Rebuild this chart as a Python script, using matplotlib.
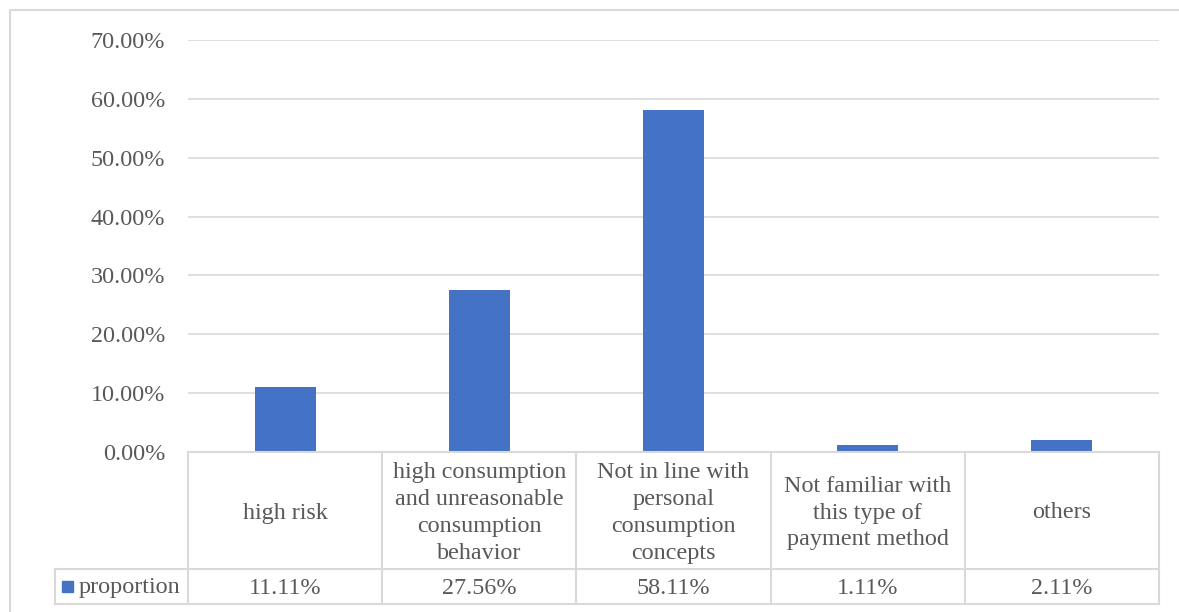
import matplotlib
matplotlib.use("Agg")
import matplotlib.pyplot as plt
from matplotlib.transforms import blended_transform_factory
from matplotlib.patches import Rectangle
from matplotlib.lines import Line2D

categories = [
    "high risk",
    "high consumption\nand unreasonable\nconsumption\nbehavior",
    "Not in line with\npersonal\nconsumption\nconcepts",
    "Not familiar with\nthis type of\npayment method",
    "others",
]
proportion = [11.11, 27.56, 58.11, 1.11, 2.11]
series_name = "proportion"
y_ticks = [0, 10, 20, 30, 40, 50, 60, 70]

W, H = 1179, 612
DPI = 100
BAR = "#4472C4"
GRID = "#D9D9D9"
TXT = "#595959"
FONT = "Liberation Serif"
FS = 17.4

plt.rcParams["font.family"] = [FONT, "DejaVu Serif"]

fig = plt.figure(figsize=(W / DPI, H / DPI), dpi=DPI)

def fx(px):
    return px / W

def fy(py):
    return 1 - py / H

# plot area in pixel coordinates
left_px, right_px, top_px, zero_px = 188, 1159, 40, 452
tab_mid_px, tab_bot_px, legend_left_px = 569, 604, 55

ax = fig.add_axes([fx(left_px), fy(zero_px), fx(right_px - left_px), (zero_px - top_px) / H])
x = list(range(len(categories)))
ax.bar(x, proportion, width=0.315, color=BAR, zorder=3)
ax.set_xlim(-0.5, len(categories) - 0.5)
ax.set_ylim(0, 70)
ax.set_yticks(y_ticks)
ax.set_yticklabels([f"{v:.2f}%" for v in y_ticks], fontsize=FS, color=TXT)
ax.tick_params(axis="y", length=0, pad=16.5)
ax.set_xticks([])
ax.grid(axis="y", color=GRID, linewidth=1.2, zorder=0)
for s in ax.spines.values():
    s.set_visible(False)

# outer chart frame
fig.patches.append(Rectangle((fx(10), fy(700)), fx(1300), (700 - 10) / H,
                             transform=fig.transFigure, fill=False,
                             edgecolor=GRID, linewidth=1.5))

# data table below the plot
bt = blended_transform_factory(ax.transData, fig.transFigure)
lw = 1.5
def hline(x0, x1, y):
    fig.add_artist(Line2D([fx(x0), fx(x1)], [fy(y), fy(y)], transform=fig.transFigure,
                          color=GRID, linewidth=lw))

hline(left_px, right_px, zero_px)
hline(legend_left_px, right_px, tab_mid_px)
hline(legend_left_px, right_px, tab_bot_px)
fig.add_artist(Line2D([fx(legend_left_px)] * 2, [fy(tab_mid_px), fy(tab_bot_px)],
                      transform=fig.transFigure, color=GRID, linewidth=lw))
for i in range(len(categories) + 1):
    fig.add_artist(Line2D([i - 0.5, i - 0.5], [fy(zero_px), fy(tab_bot_px)],
                          transform=bt, color=GRID, linewidth=lw))

hdr_y = fy((zero_px + tab_mid_px) / 2 + 2.5)
row_y = fy((tab_mid_px + tab_bot_px) / 2 + 1.5)
for i, (c, v) in enumerate(zip(categories, proportion)):
    fig.text(i, hdr_y, c, transform=bt, ha="center", va="center",
             fontsize=FS, color=TXT, linespacing=1.37)
    fig.text(i, row_y, f"{v:.2f}%", transform=bt, ha="center", va="center",
             fontsize=FS, color=TXT)

# legend key inside the series cell
fig.patches.append(Rectangle((fx(62), fy(592)), fx(11), 11 / H,
                             transform=fig.transFigure, color=BAR))
fig.text(fx(79), row_y, series_name, ha="left", va="center", fontsize=FS, color=TXT)

fig.savefig("out.png", dpi=DPI)
